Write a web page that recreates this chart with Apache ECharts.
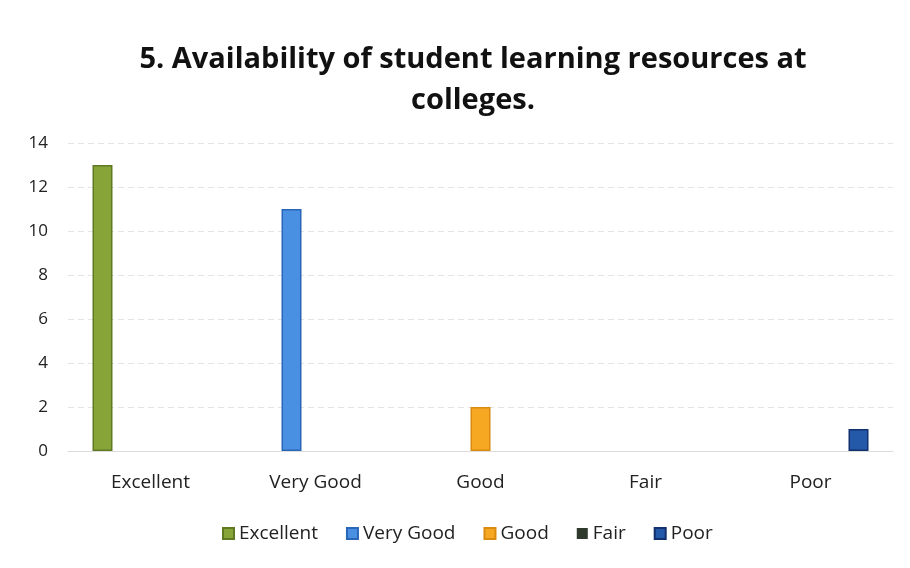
<!DOCTYPE html>
<html>
<head>
<meta charset="utf-8">
<script src="https://cdn.jsdelivr.net/npm/echarts@6/dist/echarts.min.js"></script>
<style>
  html, body { margin: 0; padding: 0; background: #ffffff; }
  #chart { width: 910px; height: 568px; }
</style>
</head>
<body>
<div id="chart"></div>
<script>
// Ratings categories and one series per rating
const categories = ['Excellent', 'Very Good', 'Good', 'Fair', 'Poor'];
const excellentValues = [13, null, null, null, null];
const veryGoodValues = [null, 11, null, null, null];
const goodValues = [null, null, 2, null, null];
const fairValues = [null, null, null, 0, null];
const poorValues = [null, null, null, null, 1];
const yTicks = [0, 2, 4, 6, 8, 10, 12, 14];

const seriesDefs = [
  { name: 'Excellent', data: excellentValues, color: '#86a437', border: '#5f7a22' },
  { name: 'Very Good', data: veryGoodValues, color: '#4a90e2', border: '#2a66b8' },
  { name: 'Good', data: goodValues, color: '#f7a823', border: '#d98a10' },
  { name: 'Fair', data: fairValues, color: '#2f3a2c', border: '#1b2219' },
  { name: 'Poor', data: poorValues, color: '#2458a8', border: '#12306e' }
];

const chart = echarts.init(document.getElementById('chart'));
chart.setOption({
  backgroundColor: '#ffffff',
  animation: false,
  textStyle: { fontFamily: '"Open Sans", "Noto Sans", sans-serif' },
  title: {
    text: '5. Availability of student learning resources at\ncolleges.',
    left: 468,
    textAlign: 'center',
    top: 34,
    textStyle: {
      fontSize: 29,
      fontWeight: 'bold',
      color: '#111',
      lineHeight: 41,
      fontFamily: '"Open Sans", "Noto Sans", sans-serif'
    }
  },
  legend: {
    bottom: 20,
    left: 217,
    itemWidth: 11,
    itemHeight: 11,
    itemGap: 28,
    icon: 'rect',
    textStyle: { fontSize: 19, color: '#222' },
    data: seriesDefs.map(s => s.name)
  },
  grid: { left: 68, right: 17, top: 143, bottom: 117 },
  xAxis: {
    type: 'category',
    data: categories,
    axisTick: { show: false },
    axisLine: { show: true, lineStyle: { color: '#dcdcdc' } },
    axisLabel: { fontSize: 19, color: '#222', margin: 22 }
  },
  yAxis: {
    type: 'value',
    min: yTicks[0],
    max: yTicks[yTicks.length - 1],
    interval: 2,
    axisLine: { show: false },
    axisTick: { show: false },
    axisLabel: { fontSize: 17, color: '#222', margin: 20 },
    splitLine: { lineStyle: { color: '#e4e4e4', type: [6, 4] } }
  },
  series: seriesDefs.map(s => ({
    name: s.name,
    type: 'bar',
    data: s.data,
    barWidth: 20,
    barGap: '20%',
    itemStyle: {
      color: s.color,
      borderColor: s.border,
      borderWidth: s.name === 'Fair' ? 0 : 1.5
    }
  }))
});
</script>
</body>
</html>
